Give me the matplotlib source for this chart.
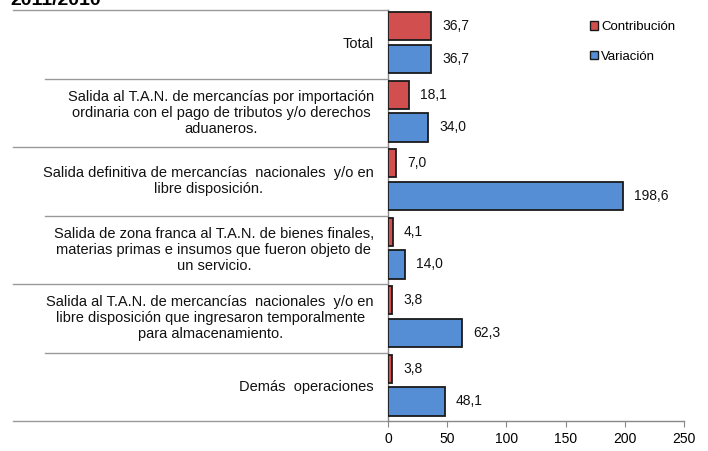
import matplotlib
matplotlib.use("Agg")

import matplotlib.pyplot as plt
import matplotlib.patches as mpatches
import matplotlib.transforms as mtransforms

plt.rcParams["font.family"] = ["Liberation Sans", "DejaVu Sans"]

# Data (top to bottom)
categories = [
    "Total",
    "Salida al T.A.N. de mercancías por importación\n"
    "ordinaria con el pago de tributos y/o derechos\naduaneros.",
    "Salida definitiva de mercancías  nacionales  y/o en\nlibre disposición.",
    "Salida de zona franca al T.A.N. de bienes finales,\n"
    "materias primas e insumos que fueron objeto de\nun servicio.",
    "Salida al T.A.N. de mercancías  nacionales  y/o en\n"
    "libre disposición que ingresaron temporalmente\npara almacenamiento.",
    "Demás  operaciones",
]
contribucion = [36.7, 18.1, 7.0, 4.1, 3.8, 3.8]
variacion = [36.7, 34.0, 198.6, 14.0, 62.3, 48.1]
x_ticks = [0, 50, 100, 150, 200, 250]

RED = "#D24F4F"
BLUE = "#558ED5"
EDGE = "#1a1a1a"

fig = plt.figure(figsize=(7.08, 4.51), dpi=100)
ax = fig.add_axes([388 / 708, 1 - 421 / 451, 296 / 708, 411 / 451])

n = len(categories)
red_y = [i + 0.235 for i in range(n)]
blue_y = [i + 0.715 for i in range(n)]

ax.barh(red_y, contribucion, height=0.41, color=RED, edgecolor=EDGE,
        linewidth=1.3, zorder=3)
ax.barh(blue_y, variacion, height=0.41, color=BLUE, edgecolor=EDGE,
        linewidth=1.3, zorder=3)

# value labels
off = mtransforms.offset_copy(ax.transData, fig=fig, x=11, y=0, units="dots")
for y, v in zip(red_y, contribucion):
    ax.text(v, y, f"{v:.1f}".replace(".", ","), transform=off,
            ha="left", va="center", fontsize=10, color="#111")
for y, v in zip(blue_y, variacion):
    ax.text(v, y, f"{v:.1f}".replace(".", ","), transform=off,
            ha="left", va="center", fontsize=10, color="#111")

ax.set_xlim(0, 250)
ax.set_ylim(n, 0)
ax.set_xticks(x_ticks)
ax.set_xticklabels([str(t) for t in x_ticks], fontsize=10)
ax.set_yticks([])
ax.tick_params(axis="x", direction="out", length=4, color="#888", pad=4)

for s in ["top", "right"]:
    ax.spines[s].set_visible(False)
for s in ["left", "bottom"]:
    ax.spines[s].set_color("#888")
    ax.spines[s].set_linewidth(1.0)

# category labels + separator lines
blend = mtransforms.blended_transform_factory(ax.transAxes, ax.transData)
lab_tr = mtransforms.offset_copy(blend, fig=fig, x=-14, y=0, units="dots")
for i, cat in enumerate(categories):
    ax.text(0, i + 0.5, cat, transform=lab_tr, ha="right", va="center",
            multialignment="center", fontsize=10.5, color="#111",
            linespacing=1.18)

for i in range(n + 1):
    x0 = -1.267 if i % 2 == 0 else -1.159
    ax.plot([x0, 0], [i, i], transform=blend, color="#999",
            linewidth=1.0, clip_on=False, zorder=1)

# legend
handles = [
    mpatches.Patch(facecolor=RED, edgecolor=EDGE, label="Contribución"),
    mpatches.Patch(facecolor=BLUE, edgecolor=EDGE, label="Variación"),
]
fig.legend(handles=handles, loc="upper left",
           bbox_to_anchor=(590 / 708, 1 - 21 / 451), frameon=False,
           fontsize=9.5, handlelength=0.6, handleheight=0.6,
           handletextpad=0.25, labelspacing=1.35, borderaxespad=0,
           borderpad=0)

# title, cut off at the top in the original
fig.text(10 / 708, 1 - 5 / 451, "2011/2010", fontsize=14,
         fontweight="bold", ha="left", va="baseline")

fig.savefig("out.png", dpi=100)
